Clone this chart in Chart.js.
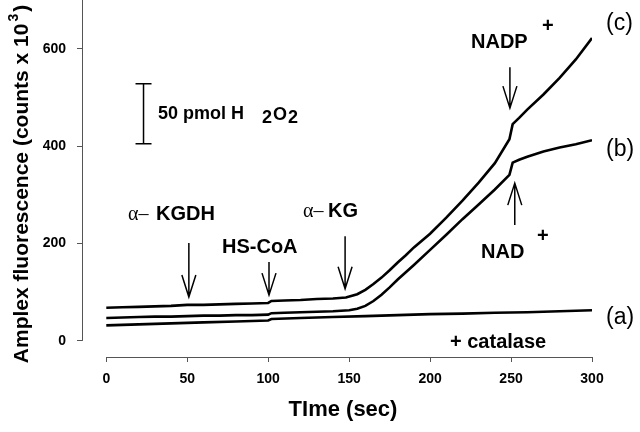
<!DOCTYPE html>
<html>
<head>
<meta charset="utf-8">
<script src="https://cdn.jsdelivr.net/npm/chart.js@4/dist/chart.umd.min.js"></script>
<style>
html,body{margin:0;padding:0;background:#fff;}
</style>
</head>
<body>
<canvas id="myChart" width="640" height="432"></canvas>
<script>
// trace (c) - NADP+
var timeC=[0,10,20,30,40,50,60,70,80,90,100,102,110,120,130,140,148,155,160,165,170,175,180,185,190,200,210,220,230,240,249,251,255,260,270,280,290,300];
var valC=[68,69,70,71,72,74,74,75,76,77,78,82,83,84,86,87,89,96,105,117,130,145,161,176,192,220,253,288,325,365,414,445,458,475,506,540,578,622];
// trace (b) - NAD+
var timeB=[0,10,20,30,40,50,60,70,80,90,100,102,110,120,130,140,150,155,160,165,170,175,180,185,190,200,210,220,230,240,249,251,255,260,270,280,290,300];
var valB=[47,48,49,50,50,51,52,52,53,53,54,57,58,59,60,61,63,66,72,82,95,110,126,141,156,187,218,250,280,311,341,366,372,378,389,397,404,412];
// trace (a) - + catalase
var timeA=[0,20,40,60,80,100,102,120,140,160,180,200,220,240,260,280,300];
var valA=[32,34,36,38,40,42,45,47,49,51,53,55,56,58,59,61,63];

var xTicks=[0,50,100,150,200,250,300];
var yTicks=[0,200,400,600];

function toPoints(t,v){
    var pts=[];
    for(var i=0;i<t.length;i++){
        pts.push({x:t[i],y:v[i]});
    }
    return pts;
}

var sans="'Liberation Sans', Arial, sans-serif";
var serif="'Liberation Serif', 'Times New Roman', serif";

function arrow(ctx,x,y1,y2){
    // y1 tail, y2 tip (pixels)
    var dir=y2>y1?1:-1;
    ctx.beginPath();
    ctx.moveTo(x,y1);
    ctx.lineTo(x,y2);
    ctx.moveTo(x-7,y2-dir*22);
    ctx.lineTo(x,y2);
    ctx.lineTo(x+7,y2-dir*22);
    ctx.stroke();
}

var extras={
    id:"extras",
    afterDraw:function(chart){
        var ctx=chart.ctx;
        var xs=chart.scales.x, ys=chart.scales.y;
        var area=chart.chartArea;
        ctx.save();

        // detached axis lines
        ctx.strokeStyle="#555";
        ctx.lineWidth=1;
        ctx.beginPath();
        ctx.moveTo(Math.round(xs.getPixelForValue(0))+0.5,area.bottom+0.5);
        ctx.lineTo(Math.round(xs.getPixelForValue(300))+0.5,area.bottom+0.5);
        ctx.moveTo(area.left+0.5,ys.getPixelForValue(0));
        ctx.lineTo(area.left+0.5,ys.getPixelForValue(700));
        ctx.stroke();

        ctx.fillStyle="#000";
        ctx.strokeStyle="#000";
        ctx.textBaseline="alphabetic";

        // axis titles
        ctx.font="bold 22px "+sans;
        ctx.textAlign="center";
        ctx.fillText("TIme (sec)",343,416);

        ctx.save();
        ctx.translate(28,184);
        ctx.rotate(-Math.PI/2);
        ctx.textAlign="left";
        ctx.font="bold 21px "+sans;
        var t1="Amplex fluorescence (counts x 10";
        var w1=ctx.measureText(t1).width;
        ctx.font="bold 14px "+sans;
        var w3=ctx.measureText("3").width;
        ctx.font="bold 21px "+sans;
        var w4=ctx.measureText(")").width;
        var st=-(w1+w3+4+w4)/2;
        ctx.fillText(t1,st,0);
        ctx.font="bold 14px "+sans;
        ctx.fillText("3",st+w1+2,-10);
        ctx.font="bold 21px "+sans;
        ctx.fillText(")",st+w1+w3+4,0);
        ctx.restore();

        // scale bar 50 pmol H2O2
        ctx.lineWidth=1.5;
        var bx=xs.getPixelForValue(23);
        var bt=ys.getPixelForValue(528), bb=ys.getPixelForValue(405);
        ctx.beginPath();
        ctx.moveTo(bx,bt);ctx.lineTo(bx,bb);
        ctx.moveTo(bx-8,bt);ctx.lineTo(bx+8,bt);
        ctx.moveTo(bx-8,bb);ctx.lineTo(bx+8,bb);
        ctx.stroke();
        ctx.textAlign="left";
        ctx.font="bold 18px "+sans;
        ctx.fillText("50 pmol H",158,119);
        ctx.fillText("2",262,123);
        ctx.fillText("O",273,120);
        ctx.fillText("2",288,123);

        // addition arrows
        ctx.lineWidth=1.5;
        arrow(ctx,xs.getPixelForValue(51),ys.getPixelForValue(201),ys.getPixelForValue(90));
        arrow(ctx,xs.getPixelForValue(100.5),ys.getPixelForValue(162),ys.getPixelForValue(94));
        arrow(ctx,xs.getPixelForValue(147.5),ys.getPixelForValue(215),ys.getPixelForValue(107));
        arrow(ctx,xs.getPixelForValue(249.3),ys.getPixelForValue(562),ys.getPixelForValue(478));
        arrow(ctx,xs.getPixelForValue(252.3),ys.getPixelForValue(238),ys.getPixelForValue(324));

        // labels
        ctx.font="20px "+serif;
        ctx.fillText("\u03b1\u2013",128,220);
        ctx.fillText("\u03b1\u2013",303,217);
        ctx.font="bold 20px "+sans;
        ctx.fillText("KGDH",156,220);
        ctx.fillText("KG",328,217);
        ctx.fillText("HS-CoA",222,253);
        ctx.fillText("NADP",471,48);
        ctx.fillText("+",542,32);
        ctx.fillText("NAD",481,258);
        ctx.fillText("+",537,242);
        ctx.fillText("+ catalase",450,348);

        ctx.font="23px "+sans;
        ctx.fillText("(c)",606,30);
        ctx.fillText("(b)",606,156);
        ctx.fillText("(a)",606,324);

        ctx.restore();
    }
};

var ctx=document.getElementById("myChart").getContext("2d");
var myChart=new Chart(ctx,{
    type:"line",
    data:{
        datasets:[
            {label:"(c)",data:toPoints(timeC,valC),borderColor:"#000",borderWidth:2.6,pointRadius:0,fill:false},
            {label:"(b)",data:toPoints(timeB,valB),borderColor:"#000",borderWidth:2.6,pointRadius:0,fill:false},
            {label:"(a)",data:toPoints(timeA,valA),borderColor:"#000",borderWidth:2.6,pointRadius:0,fill:false}
        ]
    },
    options:{
        responsive:false,
        animation:false,
        devicePixelRatio:1,
        layout:{padding:{left:0,right:48,top:0,bottom:0}},
        plugins:{legend:{display:false},tooltip:{enabled:false}},
        scales:{
            x:{
                type:"linear",
                min:-15,
                max:300,
                afterBuildTicks:function(s){s.ticks=xTicks.map(function(v){return {value:v};});},
                afterFit:function(s){s.height=75;s.paddingLeft=0;s.paddingRight=0;},
                border:{display:false},
                grid:{drawOnChartArea:false,drawTicks:true,tickLength:5,color:"#555"},
                ticks:{color:"#000",padding:9,maxRotation:0,font:{family:sans,weight:"bold",size:14}}
            },
            y:{
                type:"linear",
                min:-33,
                max:700,
                afterBuildTicks:function(s){s.ticks=yTicks.map(function(v){return {value:v};});},
                afterFit:function(s){s.width=82;s.paddingTop=0;s.paddingBottom=0;},
                border:{display:false},
                grid:{drawOnChartArea:false,drawTicks:true,tickLength:5,color:"#555"},
                ticks:{color:"#000",padding:11,font:{family:sans,weight:"bold",size:14}}
            }
        }
    },
    plugins:[extras]
});
</script>
</body>
</html>
